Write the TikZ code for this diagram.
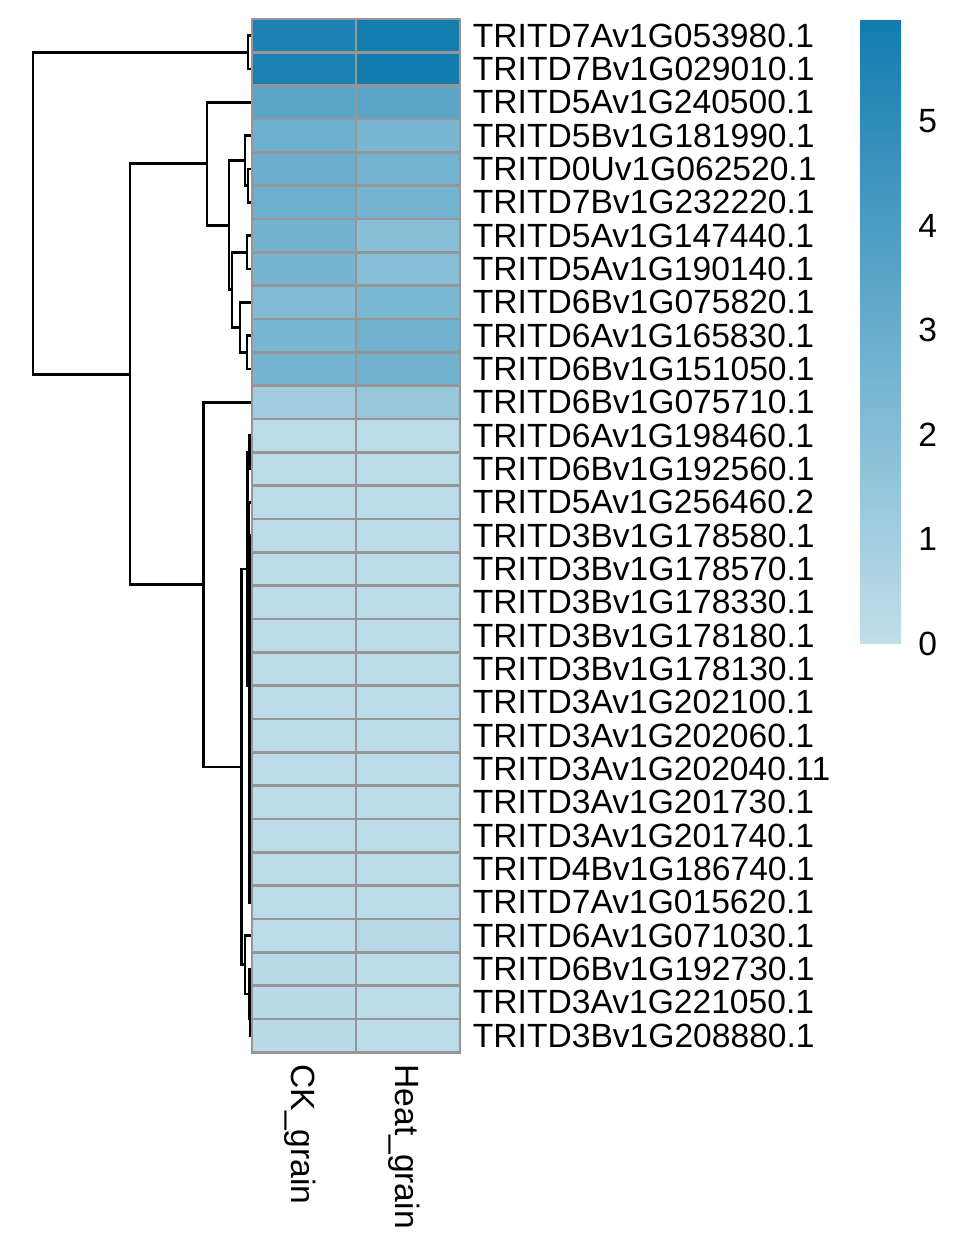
\documentclass[tikz,border=0pt]{standalone}
\usepackage{fontspec}
\setmainfont{Liberation Sans}
\definecolor{heatlow}{RGB}{192,222,234}
\definecolor{heathigh}{RGB}{18,124,175}
\definecolor{gridgray}{RGB}{150,150,150}
\begin{document}
\begin{tikzpicture}[line cap=butt,line join=miter,x=0.5pt,y=-0.5pt,font=\fontsize{16.8pt}{20pt}\selectfont]
	\tikzset{tree/.style={line width=1.4pt,black},
		cellgrid/.style={draw=gridgray,line width=1.45pt},
		gene/.style={anchor=west,inner sep=0pt},
		collabel/.style={rotate=-90,anchor=base west,inner sep=0pt}}
	\useasboundingbox (0,0) rectangle (979,1258);
	\def\merge#1#2#3#4#5{\draw[tree] (#4,#2)--(#1,#2)--(#1,#3)--(#5,#3);} % x, y1, y2, x1, x2
	% dendrogram
	\merge{248}{35.7}{69.0}{252}{252}
	\merge{33}{52.3}{374.2}{248}{130}
	\merge{130}{163.8}{584.6}{207}{203.5}
	\merge{207}{102.3}{225.3}{252}{229}
	\merge{229}{160.7}{289.8}{245}{232}
	\merge{245}{135.7}{185.7}{252}{248}
	\merge{248}{169.0}{202.3}{252}{252}
	\merge{232}{252.3}{327.3}{247}{240}
	\merge{247}{235.7}{269.0}{252}{252}
	\merge{240}{302.3}{352.3}{252}{247}
	\merge{247}{335.7}{369.0}{252}{252}
	\merge{203.5}{402.3}{766.9}{252}{241.5}
	\merge{241.5}{569.0}{964.8}{247.8}{245}
	\merge{247.8}{452.3}{685.7}{249.3}{249.0}
	\merge{249.3}{435.7}{469.0}{252}{252}
	\merge{249.0}{502.3}{869.0}{252}{249.4}
	\foreach \x/\ya/\yb/\xa in {251.6/535.7/569.0/252,251.3/552.3/602.3/251.6,251.0/577.3/635.7/251.3,
		250.8/606.5/669.0/251.0,250.6/637.8/702.3/250.8,250.4/670.0/735.7/250.6,250.2/702.9/769.0/250.4,
		250.0/735.9/802.3/250.2,249.8/769.1/835.7/250.0,249.6/802.4/869.0/249.8,249.4/835.7/902.3/249.6}{
		\merge{\x}{\ya}{\yb}{\xa}{252}}
	\merge{245}{935.7}{994.0}{252}{249.3}
	\merge{249.3}{969.0}{1019.0}{252}{250.5}
	\merge{250.5}{1002.3}{1035.7}{252}{252}
	% heatmap cells
	\foreach \i/\a/\b in {1/94/98,2/95/100,3/58/58,4/48/41,5/48.5/44,6/48/44,7/45/32,8/42.5/33,
		9/37/40,10/41/45,11/42.5/45,12/18/23,13/2/2,14/2/2,15/2/2,16/2/2,17/2/2,18/2/2,19/2/2,
		20/2/2,21/2/2,22/2/2,23/2/2,24/2/2,25/2/2,26/2/2,27/2/2,28/2/6,29/4/2,30/4/2,31/4/2}{
		\pgfmathsetmacro\yt{19+(\i-1)*33.333}
		\filldraw[cellgrid,fill=heathigh!\a!heatlow] (252,\yt) rectangle (356,{\yt+33.333});
		\filldraw[cellgrid,fill=heathigh!\b!heatlow] (356,\yt) rectangle (460,{\yt+33.333});}
	% row labels
	\foreach \i/\g in {1/TRITD7Av1G053980.1,2/TRITD7Bv1G029010.1,3/TRITD5Av1G240500.1,4/TRITD5Bv1G181990.1,
		5/TRITD0Uv1G062520.1,6/TRITD7Bv1G232220.1,7/TRITD5Av1G147440.1,8/TRITD5Av1G190140.1,
		9/TRITD6Bv1G075820.1,10/TRITD6Av1G165830.1,11/TRITD6Bv1G151050.1,12/TRITD6Bv1G075710.1,
		13/TRITD6Av1G198460.1,14/TRITD6Bv1G192560.1,15/TRITD5Av1G256460.2,16/TRITD3Bv1G178580.1,
		17/TRITD3Bv1G178570.1,18/TRITD3Bv1G178330.1,19/TRITD3Bv1G178180.1,20/TRITD3Bv1G178130.1,
		21/TRITD3Av1G202100.1,22/TRITD3Av1G202060.1,23/TRITD3Av1G202040.11,24/TRITD3Av1G201730.1,
		25/TRITD3Av1G201740.1,26/TRITD4Bv1G186740.1,27/TRITD7Av1G015620.1,28/TRITD6Av1G071030.1,
		29/TRITD6Bv1G192730.1,30/TRITD3Av1G221050.1,31/TRITD3Bv1G208880.1}{
		\node[gene] (g\i) at (472.5,{19+(\i-0.5)*33.333}) {\g};}
	% column labels
	\node[collabel] (ckgrain) at (291,1064) {CK\_grain};
	\node[collabel] (heatgrain) at (395,1064) {Heat\_grain};
	% legend
	\shade[top color=heathigh,bottom color=heatlow] (860,20) rectangle (901,643);
	\foreach \v in {0,...,5}{
		\node[gene] (tick\v) at (918,{644-\v*104.6}) {\v};}
\end{tikzpicture}
\end{document}
